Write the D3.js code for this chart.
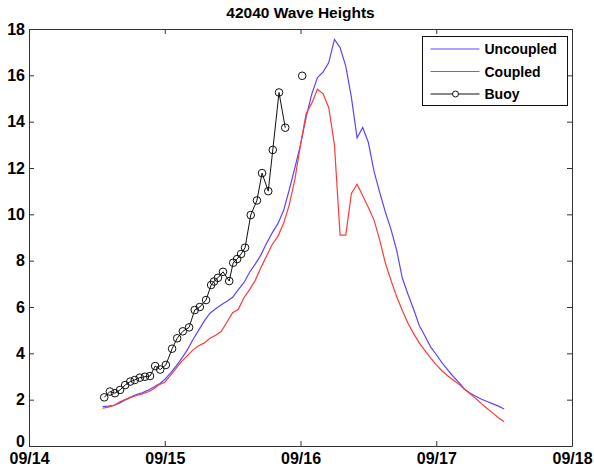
<!DOCTYPE html>
<html>
<head>
<meta charset="utf-8">
<script src="https://cdn.jsdelivr.net/npm/d3@7"></script>
<style>
  body { margin: 0; background: #fff; }
  svg { display: block; font-family: "Liberation Sans", Arial, sans-serif; }
  .axis path, .axis line { stroke: #333; }
  .axis text { font-size: 16px; font-weight: bold; fill: #000; }
</style>
</head>
<body>
<svg id="chart" width="594" height="471"></svg>
<script>
// Model output times, hours after 09/14 00Z
var modelHours = d3.range(13, 85);

var uncoupled = [
  1.70, 1.72, 1.76, 1.85, 1.99, 2.11, 2.22, 2.30, 2.40, 2.54, 2.67, 2.87,
  3.15, 3.45, 3.78, 4.15, 4.60, 5.00, 5.40, 5.73, 5.92, 6.10, 6.25, 6.42,
  6.75, 7.05, 7.50, 7.85, 8.25, 8.75, 9.20, 9.60, 10.15, 11.05, 12.00, 13.00,
  14.20, 15.20, 15.90, 16.15, 16.55, 17.55, 17.20, 16.40, 15.05, 13.30, 13.75, 13.10,
  11.85, 10.95, 10.10, 9.35, 8.45, 7.25, 6.55, 5.90, 5.20, 4.75, 4.28, 3.95,
  3.60, 3.30, 3.00, 2.75, 2.45, 2.28, 2.15, 2.02, 1.92, 1.82, 1.72, 1.60
];

var coupled = [
  1.63, 1.68, 1.75, 1.90, 2.00, 2.10, 2.18, 2.25, 2.33, 2.46, 2.65, 2.75,
  3.05, 3.35, 3.65, 3.90, 4.15, 4.33, 4.45, 4.65, 4.78, 4.95, 5.35, 5.75,
  5.90, 6.40, 6.75, 7.15, 7.70, 8.20, 8.70, 9.05, 9.60, 10.40, 11.50, 13.00,
  14.35, 14.80, 15.40, 15.20, 14.60, 13.00, 9.10, 9.10, 10.90, 11.30, 10.80, 10.30,
  9.75, 8.90, 7.90, 7.15, 6.45, 5.85, 5.30, 4.85, 4.45, 4.12, 3.80, 3.50,
  3.25, 3.03, 2.85, 2.67, 2.45, 2.25, 2.05, 1.83, 1.62, 1.42, 1.22, 1.05
];

// Buoy observations (null marks the missing report)
var buoyHours = [
  13.3, 14.3, 15.2, 16.1, 17.0, 17.9, 18.7, 19.6, 20.5, 21.4, 22.3, 23.2,
  24.2, 25.3, 26.2, 27.2, 28.3, 29.3, 30.2, 31.3, 32.2, 32.7, 33.4, 34.3,
  35.4, 36.1, 36.8, 37.5, 38.2, 39.2, 40.3, 41.2, 42.3, 43.1, 44.2, 45.3,
  46.8, 48.3
];
var buoyHs = [
  2.10, 2.35, 2.28, 2.42, 2.63, 2.78, 2.85, 2.95, 2.99, 3.02, 3.45, 3.30,
  3.50, 4.20, 4.65, 4.95, 5.12, 5.87, 6.00, 6.30, 6.95, 7.10, 7.26, 7.52,
  7.12, 7.91, 8.07, 8.29, 8.56, 9.97, 10.60, 11.78, 11.00, 12.78, 15.26, 13.74,
  null, 15.98
];

var yTicks = [0, 2, 4, 6, 8, 10, 12, 14, 16, 18];
var titleText = '42040 Wave Heights';
var seriesNames = ['Uncoupled', 'Coupled', 'Buoy'];

var start = Date.UTC(2004, 8, 14);
function toDate(h) {
  return new Date(start + h * 3600e3);
}

var svg = d3.select('#chart');
var margin = {top: 29, right: 22, bottom: 25, left: 29};
var width = 594 - margin.left - margin.right;
var height = 471 - margin.top - margin.bottom;

var x = d3.scaleUtc()
  .domain([new Date(start), new Date(Date.UTC(2004, 8, 18))])
  .range([0, width]);
var y = d3.scaleLinear().domain([0, 18]).range([height, 0]);

var g = svg.append('g')
  .attr('transform', 'translate(' + margin.left + ',' + margin.top + ')');

var dayFmt = d3.utcFormat('%m/%d');

// Axes: MATLAB style box with inward ticks on all four sides
g.append('g').attr('class', 'axis')
  .attr('transform', 'translate(0,' + height + ')')
  .call(d3.axisBottom(x).ticks(d3.utcDay.every(1)).tickFormat(dayFmt)
    .tickSizeInner(-5).tickSizeOuter(0).tickPadding(7));
g.append('g').attr('class', 'axis')
  .call(d3.axisTop(x).ticks(d3.utcDay.every(1)).tickFormat('')
    .tickSizeInner(-5).tickSizeOuter(0));
var yAxis = g.append('g').attr('class', 'axis')
  .call(d3.axisLeft(y).tickValues(yTicks)
    .tickSizeInner(-5).tickSizeOuter(0).tickPadding(4));
g.append('g').attr('class', 'axis')
  .attr('transform', 'translate(' + width + ',0)')
  .call(d3.axisRight(y).tickValues(yTicks).tickFormat('')
    .tickSizeInner(-5).tickSizeOuter(0));

// lift the bottom "0" a little so it clears the date labels
yAxis.selectAll('.tick text')
  .filter(function (d) { return d === 0; })
  .attr('dy', '0em');

g.selectAll('.axis text').attr('font-family', 'Liberation Sans, Arial, sans-serif');

var modelLine = d3.line()
  .x(function (d) { return x(toDate(d.h)); })
  .y(function (d) { return y(d.v); });

function series(values) {
  return modelHours.map(function (h, i) {
    return {h: h, v: values[i]};
  });
}

g.append('path')
  .datum(series(uncoupled))
  .attr('d', modelLine)
  .attr('fill', 'none')
  .attr('stroke', '#5a46ff')
  .attr('stroke-width', 1.2);

g.append('path')
  .datum(series(coupled))
  .attr('d', modelLine)
  .attr('fill', 'none')
  .attr('stroke', '#ff3a3a')
  .attr('stroke-width', 1.2);

var buoy = buoyHours.map(function (h, i) {
  return {h: h, v: buoyHs[i]};
});

g.append('path')
  .datum(buoy)
  .attr('d', modelLine.defined(function (d) { return d.v !== null; }))
  .attr('fill', 'none')
  .attr('stroke', '#111')
  .attr('stroke-width', 1);

g.selectAll('circle.obs')
  .data(buoy.filter(function (d) { return d.v !== null; }))
  .enter()
  .append('circle')
  .attr('class', 'obs')
  .attr('cx', function (d) { return x(toDate(d.h)); })
  .attr('cy', function (d) { return y(d.v); })
  .attr('r', 3.8)
  .attr('fill', 'none')
  .attr('stroke', '#111')
  .attr('stroke-width', 1);

// Title
svg.append('text')
  .attr('x', margin.left + width / 2)
  .attr('y', 18)
  .attr('text-anchor', 'middle')
  .attr('font-size', '15.5px')
  .attr('font-weight', 'bold')
  .text(titleText);

// Legend
var legend = svg.append('g').attr('transform', 'translate(422.5,36.5)');
legend.append('rect')
  .attr('width', 145)
  .attr('height', 69)
  .attr('fill', '#fff')
  .attr('stroke', '#111');

var legendColors = ['#5a46ff', '#ff3a3a', '#111'];
var items = legend.selectAll('g.item')
  .data(seriesNames)
  .enter()
  .append('g')
  .attr('class', 'item')
  .attr('transform', function (d, i) {
    return 'translate(0,' + (12.5 + i * 22.5) + ')';
  });

items.append('line')
  .attr('x1', 8).attr('x2', 57)
  .attr('stroke', function (d, i) { return legendColors[i]; })
  .attr('stroke-width', 1.2);

items.filter(function (d, i) { return i === 2; })
  .append('circle')
  .attr('cx', 33).attr('r', 3)
  .attr('fill', '#fff')
  .attr('stroke', '#111');

items.append('text')
  .attr('x', 62)
  .attr('y', 5)
  .attr('font-size', '14px')
  .attr('font-weight', 'bold')
  .text(function (d) { return d; });
</script>
</body>
</html>
